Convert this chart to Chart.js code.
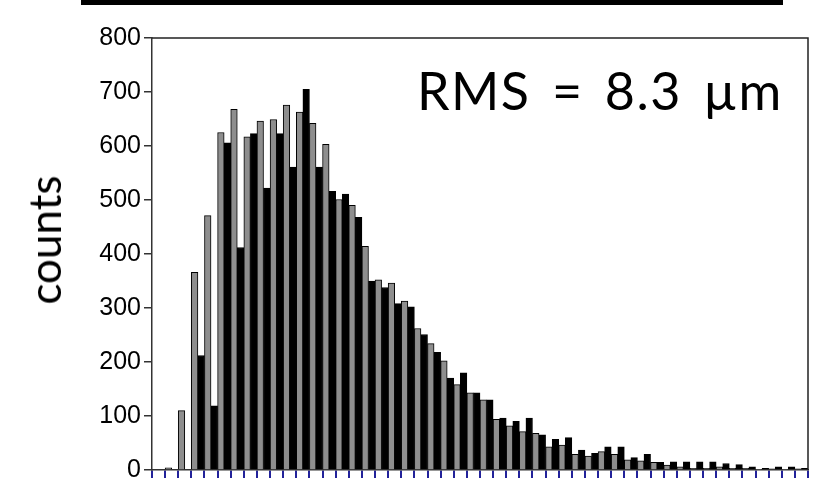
<!DOCTYPE html>
<html>
<head>
<meta charset="utf-8">
<script src="https://cdn.jsdelivr.net/npm/chart.js@4/dist/chart.umd.min.js"></script>
<style>
  html, body { margin: 0; padding: 0; background: #fff; }
  #wrap { position: relative; width: 819px; height: 488px; overflow: hidden; background: #fff; }
  #topbar { position: absolute; left: 81px; top: 0px; width: 702px; height: 5px; background: #000; }
  #ylab { position: absolute; left: 44px; top: 240px; transform: translate(-50%, -50%) rotate(-90deg);
          font-family: Lato, "Open Sans", sans-serif; font-size: 44px; line-height: 1; color: #000; white-space: nowrap; }
  #rms { position: absolute; left: 417px; top: 64px; font-family: Lato, "Open Sans", sans-serif; font-size: 52px;
         line-height: 1; color: #000; white-space: nowrap; letter-spacing: 1.5px; word-spacing: 6.5px; }
  canvas { position: absolute; left: 0; top: 0; }
</style>
</head>
<body>
<div id="wrap">
  <canvas id="c" width="819" height="488"></canvas>
  <div id="topbar"></div>
  <div id="ylab">counts</div>
  <div id="rms">RMS = 8.3 µm</div>
</div>
<script>
const bins = Array.from({length: 50}, (_, i) => String(i + 1));
const greyCounts = [0, 4, 110, 366, 471, 625, 668, 617, 646, 649, 676, 663, 642, 603, 501, 490, 414, 352, 346, 313,
  262, 234, 202, 158, 143, 130, 94, 82, 71, 68, 43, 46, 29, 26, 34, 29, 19, 17, 14, 9,
  6, 3, 3, 6, 3, 3, 1, 2, 1, 2];
const blackCounts = [0, 0, 0, 212, 119, 606, 412, 623, 522, 623, 561, 705, 561, 516, 511, 468, 350, 338, 308, 302,
  251, 218, 170, 180, 143, 130, 96, 90, 96, 65, 57, 60, 37, 31, 43, 43, 23, 29, 14, 15,
  15, 15, 15, 12, 10, 6, 3, 6, 6, 3];
const yTicks = [0, 100, 200, 300, 400, 500, 600, 700, 800];

const frame = {
  id: 'frame',
  afterDraw(chart) {
    const {ctx, chartArea: a} = chart;
    ctx.save();
    ctx.strokeStyle = '#222';
    ctx.lineWidth = 1.5;
    ctx.beginPath();
    ctx.moveTo(a.left, a.top);
    ctx.lineTo(a.right, a.top);
    ctx.lineTo(a.right, a.bottom);
    ctx.stroke();
    ctx.restore();
  }
};

new Chart(document.getElementById('c'), {
  type: 'bar',
  data: {
    labels: bins,
    datasets: [
      { label: 'A', data: greyCounts, backgroundColor: '#8e8e8e', borderColor: '#000', borderWidth: 1,
        barPercentage: 1, categoryPercentage: 1 },
      { label: 'B', data: blackCounts, backgroundColor: '#000', borderColor: '#000', borderWidth: 1,
        barPercentage: 1, categoryPercentage: 1 }
    ]
  },
  options: {
    responsive: false,
    animation: false,
    layout: { padding: { top: 38, right: 11, left: 0, bottom: 0 } },
    plugins: { legend: { display: false }, tooltip: { enabled: false }, title: { display: false } },
    scales: {
      x: {
        offset: true,
        grid: { offset: true, drawOnChartArea: false, drawTicks: true, tickLength: 8, color: '#22229a', lineWidth: 2 },
        border: { display: true, color: '#333', width: 1.5 },
        ticks: { display: false },
        afterFit(s) { s.height = 16; }
      },
      y: {
        min: 0, max: 800,
        afterBuildTicks(s) { s.ticks = yTicks.map(v => ({ value: v })); },
        grid: { drawOnChartArea: false, drawTicks: true, tickLength: 8, color: '#333', lineWidth: 1.5 },
        border: { display: true, color: '#333', width: 1.5 },
        ticks: { padding: 3, color: '#000', font: { family: '"Liberation Sans Narrow", "Liberation Sans", Arial, sans-serif', size: 25 } },
        afterFit(s) { s.width = 152; }
      }
    }
  },
  plugins: [frame]
});
</script>
</body>
</html>
